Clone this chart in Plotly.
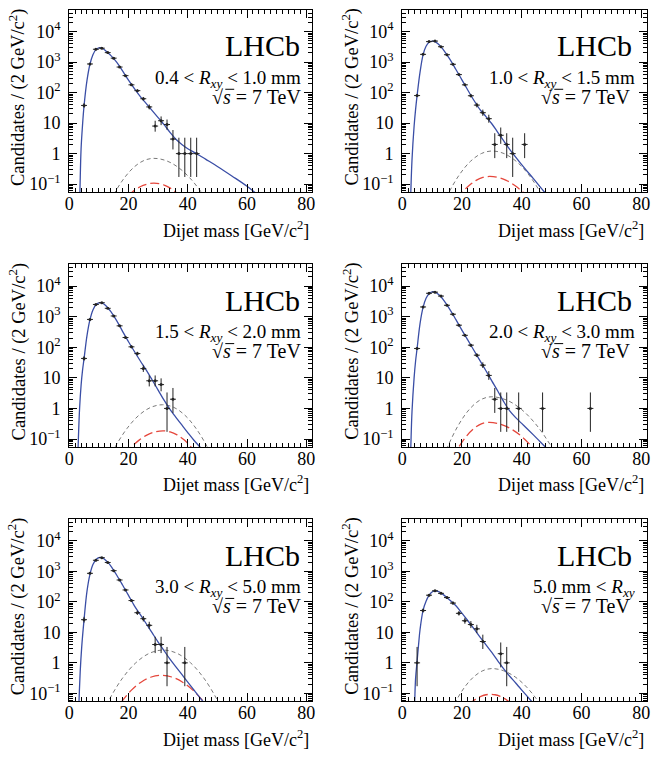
import math
import plotly.graph_objects as go

W, H = 663, 765
FONT = "Liberation Serif, Times New Roman, serif"

# ---------------- data (bin centres in GeV/c^2, candidates per 2 GeV/c^2) ----------------
labels = [
    "0.4 &lt; <i>R</i><sub><i>xy</i></sub> &lt; 1.0 mm",
    "1.0 &lt; <i>R</i><sub><i>xy</i></sub> &lt; 1.5 mm",
    "1.5 &lt; <i>R</i><sub><i>xy</i></sub> &lt; 2.0 mm",
    "2.0 &lt; <i>R</i><sub><i>xy</i></sub> &lt; 3.0 mm",
    "3.0 &lt; <i>R</i><sub><i>xy</i></sub> &lt; 5.0 mm",
    "5.0 mm &lt; <i>R</i><sub><i>xy</i></sub>",
]

x1 = [5, 7, 9, 11, 13, 15, 17, 19, 21, 23, 25, 27, 29, 31, 33, 35, 37, 39, 41, 43]
n1 = [38, 870, 2640, 2870, 2050, 1350, 690, 360, 180, 116, 63, 34, 8, 12, 9, 3, 1, 1, 1, 1]
x2 = [5, 7, 9, 11, 13, 15, 17, 19, 21, 23, 25, 27, 29, 31, 33, 35, 37, 41]
n2 = [80, 1800, 4700, 4900, 3200, 1750, 850, 390, 180, 79, 39, 22, 14, 2, 4, 2, 1, 2]
x3 = [5, 7, 9, 11, 13, 15, 17, 19, 21, 23, 25, 27, 29, 31, 33, 35]
n3 = [43, 810, 2500, 2850, 1870, 1050, 500, 208, 103, 62, 20, 8, 8, 6, 1, 2]
x4 = [5, 7, 9, 11, 13, 15, 17, 19, 21, 23, 25, 27, 29, 31, 33, 35, 39, 47, 63]
n4 = [91, 2070, 5800, 6300, 4700, 2350, 1200, 525, 245, 117, 55, 26, 12, 2, 1, 1, 1, 1, 1]
x5 = [5, 7, 9, 11, 13, 15, 17, 19, 21, 23, 25, 27, 29, 31, 33, 39]
n5 = [26, 860, 2300, 2800, 1950, 1050, 520, 245, 110, 44, 28, 17, 4, 4, 1, 1]
x6 = [5, 7, 9, 11, 13, 15, 17, 19, 21, 23, 25, 27, 33, 35]
n6 = [1, 52, 165, 230, 190, 138, 91, 42, 24, 18, 13, 5, 2, 1]

# total fit (blue)
fx1 = [3.3, 3.6, 4.0, 4.5, 5, 6, 7, 8, 9, 10, 11, 12, 13, 14, 16, 18, 20, 22, 24, 26, 28, 30, 32, 34, 36, 38, 40, 42, 44, 46, 50, 55, 60, 63, 65]
fy1 = [0.0063, 0.055, 1.41, 8.9, 36.3, 251, 851, 1738, 2570, 2951, 2884, 2512, 2042, 1660, 1000, 513, 257, 135, 74, 43.6, 25.7, 15.1, 8.9, 5.0, 2.95, 2.0, 1.45, 1.12, 0.87, 0.66, 0.38, 0.182, 0.085, 0.050, 0.035]
fx2 = [2.6, 2.9, 3.3, 4, 4.5, 5, 6, 7, 8, 9, 10, 11, 12, 13, 14, 16, 18, 20, 22, 24, 26, 28, 30, 32, 34, 36, 40, 44, 48, 50]
fy2 = [0.0063, 0.055, 0.63, 7.9, 28.2, 79.4, 479, 1738, 3311, 4467, 4898, 4677, 3981, 3162, 2399, 1230, 575, 263, 120, 56.2, 28.2, 16.6, 9.55, 5.01, 2.63, 1.38, 0.437, 0.148, 0.050, 0.032]
fx3 = [2.7, 3.0, 3.5, 4, 4.5, 5, 6, 7, 8, 9, 10, 11, 12, 13, 14, 16, 18, 20, 22, 24, 26, 28, 30, 32, 34, 36, 38, 40, 42, 44.2, 46]
fy3 = [0.0063, 0.055, 1.0, 5.62, 17.8, 41.7, 240, 794, 1660, 2455, 2818, 2818, 2455, 1950, 1479, 741, 331, 151, 72.4, 35.5, 17.8, 8.5, 3.98, 1.86, 0.93, 0.513, 0.288, 0.162, 0.093, 0.054, 0.035]
fx4 = [2.6, 2.9, 3.3, 4, 4.5, 5, 6, 7, 8, 9, 10, 11, 12, 13, 14, 16, 18, 20, 22, 24, 26, 28, 30, 32, 34, 36, 38, 40, 42, 45, 48, 50]
fy4 = [0.0063, 0.055, 0.79, 10, 35.5, 91.2, 603, 1995, 3981, 5623, 6457, 6310, 5495, 4467, 3311, 1698, 794, 363, 170, 79.4, 37.2, 17.4, 7.94, 3.72, 1.66, 0.83, 0.50, 0.324, 0.209, 0.107, 0.054, 0.035]
fx5 = [3.0, 3.3, 3.7, 4.2, 5, 6, 7, 8, 9, 10, 11, 12, 13, 14, 16, 18, 20, 22, 24, 26, 28, 30, 32, 34, 36, 38, 40, 42, 45.3, 47]
fy5 = [0.0063, 0.054, 0.5, 3.16, 25.7, 224, 794, 1660, 2399, 2818, 2818, 2455, 1995, 1514, 759, 355, 162, 74.1, 38.0, 19.1, 9.55, 4.79, 2.51, 1.32, 0.741, 0.417, 0.234, 0.132, 0.052, 0.033]
fx6 = [3.9, 4.2, 4.5, 5, 5.5, 6, 7, 8, 9, 10, 11, 12, 13, 14, 16, 18, 20, 22, 24, 26, 28, 30, 32, 34, 36, 38, 41, 43.5, 45]
fy6 = [0.0063, 0.052, 0.316, 1.12, 3.98, 12.6, 52.5, 105, 162, 209, 229, 219, 195, 166, 112, 74.1, 42.7, 24.0, 13.2, 7.08, 3.98, 2.19, 1.17, 0.631, 0.363, 0.219, 0.1, 0.052, 0.035]

# signal components: grey (short dash) and red (long dash)
gx1 = [12.9, 15.5, 18.75, 22.0, 25.25, 28.5, 32.5, 36.5, 40.5, 44.5, 47.7]
gy1 = [0.0179, 0.055, 0.167, 0.371, 0.597, 0.70, 0.597, 0.371, 0.167, 0.055, 0.0179]
rx1 = [19.8, 21.3, 23.1, 24.95, 26.8, 28.6, 30.4, 32.25, 34.1, 35.9, 37.4]
ry1 = [0.041, 0.055, 0.0736, 0.0907, 0.103, 0.107, 0.103, 0.0907, 0.0736, 0.055, 0.041]
gx2 = [12.8, 15.7, 19.3, 22.9, 26.5, 30.1, 34.1, 38.15, 42.2, 46.2, 49.4]
gy2 = [0.0141, 0.055, 0.213, 0.562, 1.005, 1.22, 1.005, 0.562, 0.213, 0.055, 0.0141]
rx2 = [18.4, 20.2, 22.5, 24.75, 27.0, 29.3, 32.1, 34.85, 37.6, 40.4, 42.6]
ry2 = [0.0328, 0.055, 0.0918, 0.1326, 0.165, 0.178, 0.165, 0.1326, 0.0918, 0.055, 0.0328]
gx3 = [12.3, 15.5, 19.5, 23.5, 27.5, 31.5, 35.3, 39.05, 42.8, 46.6, 49.6]
gy3 = [0.0136, 0.055, 0.221, 0.596, 1.08, 1.32, 1.08, 0.596, 0.221, 0.055, 0.0136]
rx3 = [18.9, 21.0, 23.7, 26.35, 29.0, 31.7, 34.05, 36.4, 38.75, 41.1, 43.0]
ry3 = [0.0321, 0.055, 0.0938, 0.137, 0.172, 0.186, 0.172, 0.137, 0.0938, 0.055, 0.0321]
gx4 = [12.3, 15.2, 18.85, 22.5, 26.15, 29.8, 34.85, 39.9, 44.95, 50.0, 54.0]
gy4 = [0.0104, 0.055, 0.287, 0.933, 1.895, 2.4, 1.895, 0.933, 0.287, 0.055, 0.0104]
rx4 = [17.0, 19.0, 21.5, 24.0, 26.5, 29.0, 32.6, 36.25, 39.9, 43.5, 46.4]
ry4 = [0.0243, 0.055, 0.1236, 0.220, 0.312, 0.35, 0.312, 0.220, 0.1236, 0.055, 0.0243]
gx5 = [9.5, 13.2, 17.8, 22.45, 27.1, 31.7, 36.3, 40.95, 45.6, 50.2, 53.9]
gy5 = [0.010, 0.055, 0.2985, 1.0, 2.07, 2.63, 2.07, 1.0, 0.2985, 0.055, 0.010]
rx5 = [15.0, 17.7, 21.0, 24.35, 27.7, 31.0, 34.6, 38.15, 41.7, 45.3, 48.2]
ry5 = [0.0225, 0.0537, 0.1277, 0.237, 0.344, 0.39, 0.344, 0.237, 0.1277, 0.0537, 0.0225]
gx6 = [15.5, 17.9, 20.9, 23.95, 27.0, 30.0, 33.9, 37.8, 41.7, 45.6, 48.7]
gy6 = [0.018, 0.0537, 0.1594, 0.347, 0.553, 0.65, 0.553, 0.347, 0.1594, 0.0537, 0.018]
rx6 = [22.3, 23.5, 25.0, 26.55, 28.1, 29.6, 31.1, 32.65, 34.2, 35.7, 36.9]
ry6 = [0.042, 0.0537, 0.0684, 0.0813, 0.0902, 0.093, 0.0902, 0.0813, 0.0684, 0.0537, 0.042]

xticks = [0, 20, 40, 60, 80]
yticks = [0.1, 1, 10, 100, 1000, 10000]
yticktext = ["10<sup>\u22121</sup>", "1", "10", "10<sup>2</sup>", "10<sup>3</sup>", "10<sup>4</sup>"]

data_x = [x1, x2, x3, x4, x5, x6]
data_n = [n1, n2, n3, n4, n5, n6]
fit_x = [fx1, fx2, fx3, fx4, fx5, fx6]
fit_y = [fy1, fy2, fy3, fy4, fy5, fy6]
grey_x = [gx1, gx2, gx3, gx4, gx5, gx6]
grey_y = [gy1, gy2, gy3, gy4, gy5, gy6]
red_x = [rx1, rx2, rx3, rx4, rx5, rx6]
red_y = [ry1, ry2, ry3, ry4, ry5, ry6]


def poisson_err(counts):
    lo, hi = [], []
    for n in counts:
        hi.append(math.sqrt(n + 0.75) + 1.0)
        lo.append(n - n * (1 - 1 / (9 * n) - 1 / (3 * math.sqrt(n))) ** 3)
    return lo, hi


# ---------------- layout geometry (pixels) ----------------
col_left = [65, 402]
col_right = [311, 650]
row_top = [10, 265, 520.5]
row_bot = [192.7, 448.3, 703.3]

BLUE = "#3a4ea6"
GREY = "#7a7a7a"
RED = "#e5473c"

fig = go.Figure()
annotations = []
shapes = []

for i in range(6):
    r, c = divmod(i, 2)
    k = "" if i == 0 else str(i + 1)
    xa, ya = "x" + k, "y" + k
    lo, hi = poisson_err(data_n[i])

    fig.add_trace(go.Scatter(x=grey_x[i], y=grey_y[i], mode="lines", line_shape="spline",
                             line=dict(color=GREY, width=1, dash="4px,3px"), xaxis=xa, yaxis=ya,
                             hoverinfo="skip"))
    fig.add_trace(go.Scatter(x=red_x[i], y=red_y[i], mode="lines", line_shape="spline",
                             line=dict(color=RED, width=1.3, dash="9px,4px"), xaxis=xa, yaxis=ya,
                             hoverinfo="skip"))
    fig.add_trace(go.Scatter(x=fit_x[i], y=fit_y[i], mode="lines", line_shape="spline",
                             line=dict(color=BLUE, width=1.3), xaxis=xa, yaxis=ya))
    fig.add_trace(go.Scatter(x=data_x[i], y=data_n[i], mode="markers",
                             marker=dict(color="#222222", size=3),
                             error_x=dict(type="constant", value=1.0, width=0, thickness=1, color="#222222"),
                             error_y=dict(type="data", array=hi, arrayminus=lo, symmetric=False,
                                          width=0, thickness=1, color="#222222"),
                             xaxis=xa, yaxis=ya))

    axis_common = dict(showline=True, linecolor="black", linewidth=1, mirror="allticks",
                       ticks="inside", ticklen=8, tickwidth=1, tickcolor="black",
                       showgrid=False, zeroline=False,
                       tickfont=dict(family=FONT, size=18, color="black"))
    xdom = [col_left[c] / W, col_right[c] / W]
    ydom = [1 - row_bot[r] / H, 1 - row_top[r] / H]
    fig.layout["xaxis" + k] = dict(axis_common, domain=xdom, range=[0, 82], anchor=ya,
                                   tickmode="array", tickvals=xticks, ticklabelstandoff=-5,
                                   minor=dict(ticks="inside", ticklen=4, tickwidth=1, tickcolor="black",
                                              tickmode="linear", tick0=0, dtick=2, showgrid=False))
    fig.layout["yaxis" + k] = dict(axis_common, domain=ydom, type="log", range=[-1.265, 4.71], anchor=xa,
                                   tickmode="array", tickvals=yticks, ticktext=yticktext,
                                   ticklabelstandoff=4,
                                   minor=dict(ticks="inside", ticklen=4, tickwidth=1, tickcolor="black",
                                              dtick="D1", showgrid=False))

    off = row_top[r] - row_top[0]
    rx = col_right[c]
    lhcb_r = rx - (10 if c == 0 else 13)
    lab_r = rx - (9 if c == 0 else 10)
    s_r = rx - (9 if c == 0 else 15)
    annotations += [
        dict(text="LHCb", x=lhcb_r / W, y=1 - (46 + off) / H, xanchor="right", yanchor="middle",
             font=dict(family=FONT, size=30, color="black")),
        dict(text=labels[i], x=lab_r / W, y=1 - (79 + off) / H, xanchor="right", yanchor="middle",
             font=dict(family=FONT, size=19, color="black")),
        dict(text="\u221a<i>s</i> = 7 TeV",
             x=s_r / W, y=1 - (97 + off) / H, xanchor="right", yanchor="middle",
             font=dict(family=FONT, size=20, color="black")),
        dict(text="Candidates / (2 GeV/c<sup>2</sup>)", textangle=-90,
             x=(12.5 + (337.5 if c else 0)) / W, y=1 - (97 + off) / H,
             xanchor="center", yanchor="middle", font=dict(family=FONT, size=18.5, color="black")),
        dict(text="Dijet mass [GeV/c<sup>2</sup>]", x=(col_right[c] - 1) / W, y=1 - (230 + off) / H,
             xanchor="right", yanchor="middle", font=dict(family=FONT, size=18, color="black")),
    ]
    # vinculum of the square-root sign over "s"
    s_left = s_r - 89
    shapes.append(dict(type="line", xref="paper", yref="paper",
                       x0=(s_left + 10) / W, x1=(s_left + 19) / W,
                       y0=1 - (89.5 + off) / H, y1=1 - (89.5 + off) / H,
                       line=dict(color="black", width=1)))

for a in annotations:
    a.update(xref="paper", yref="paper", showarrow=False)

fig.update_layout(width=W, height=H, margin=dict(l=0, r=0, t=0, b=0),
                  paper_bgcolor="white", plot_bgcolor="white", showlegend=False,
                  annotations=annotations, shapes=shapes, font=dict(family=FONT))

fig.write_html("out.html", config={"displayModeBar": False},
               post_script="document.body.style.margin='0';document.body.style.overflow='hidden';")
